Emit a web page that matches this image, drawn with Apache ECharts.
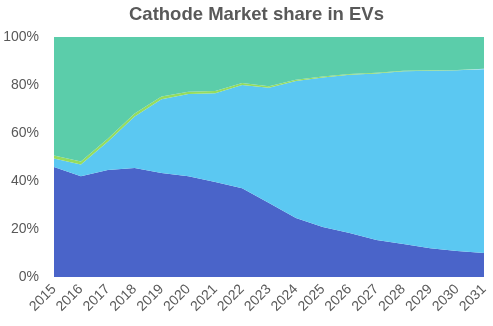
<!DOCTYPE html>
<html><head><meta charset="utf-8">
<script src="https://cdn.jsdelivr.net/npm/echarts@6/dist/echarts.min.js"></script>
<style>html,body{margin:0;padding:0;background:#fff}#c{width:493px;height:326px}</style>
</head><body><div id="c"></div>
<script>
const years = ['2015','2016','2017','2018','2019','2020','2021','2022','2023','2024','2025','2026','2027','2028','2029','2030','2031'];
const darkBlue = [45.8, 42, 44.6, 45.4, 43.3, 42, 39.6, 37, 30.8, 24.6, 20.8, 18.3, 15.4, 13.8, 12, 10.8, 10];
const lightBlue = [3.6, 4.9, 11.8, 21.5, 30.8, 34.2, 37, 43, 48.1, 57.1, 62.3, 66, 69.4, 71.9, 73.9, 75.3, 76.6];
const green = [1.2, 1.2, 1.2, 1.2, 1.1, 1, 0.9, 0.8, 0.6, 0.5, 0.4, 0.3, 0.3, 0.2, 0.2, 0.2, 0.2];
const teal = [49.4, 51.9, 42.4, 31.9, 24.8, 22.8, 22.5, 19.2, 20.5, 17.8, 16.5, 15.4, 14.9, 14.1, 13.9, 13.7, 13.2];
const yTicks = [0, 20, 40, 60, 80, 100];

const font = "'Liberation Sans', Arial, sans-serif";
function s(name, data, color) {
  return {name, type: 'line', stack: 'total', data, symbol: 'none', smooth: false,
    lineStyle: {width: 0}, areaStyle: {color, opacity: 1}, itemStyle: {color}};
}
const chart = echarts.init(document.getElementById('c'), null, {renderer: 'canvas'});
chart.setOption({
  animation: false,
  title: {text: 'Cathode Market share in EVs', left: 124, top: 0,
    textStyle: {fontFamily: font, fontSize: 18.5, fontWeight: 'bold', color: '#595959'}},
  grid: {left: 54, right: 9, top: 37, bottom: 49, containLabel: false},
  xAxis: {type: 'category', data: years, boundaryGap: false,
    axisLine: {show: false}, axisTick: {show: false},
    axisLabel: {rotate: 45, interval: 0, color: '#595959', fontFamily: font, fontSize: 14, margin: 10}},
  yAxis: {type: 'value', min: yTicks[0], max: yTicks[yTicks.length - 1], interval: 20,
    axisLine: {show: false}, axisTick: {show: false}, splitLine: {show: false},
    axisLabel: {formatter: '{value}%', color: '#595959', fontFamily: font, fontSize: 14, margin: 15}},
  series: [
    s('A', darkBlue, '#4a64c9'),
    s('B', lightBlue, '#5bc8f2'),
    s('C', green, '#95dc5c'),
    s('D', teal, '#5bcdaa')
  ]
});
</script></body></html>
